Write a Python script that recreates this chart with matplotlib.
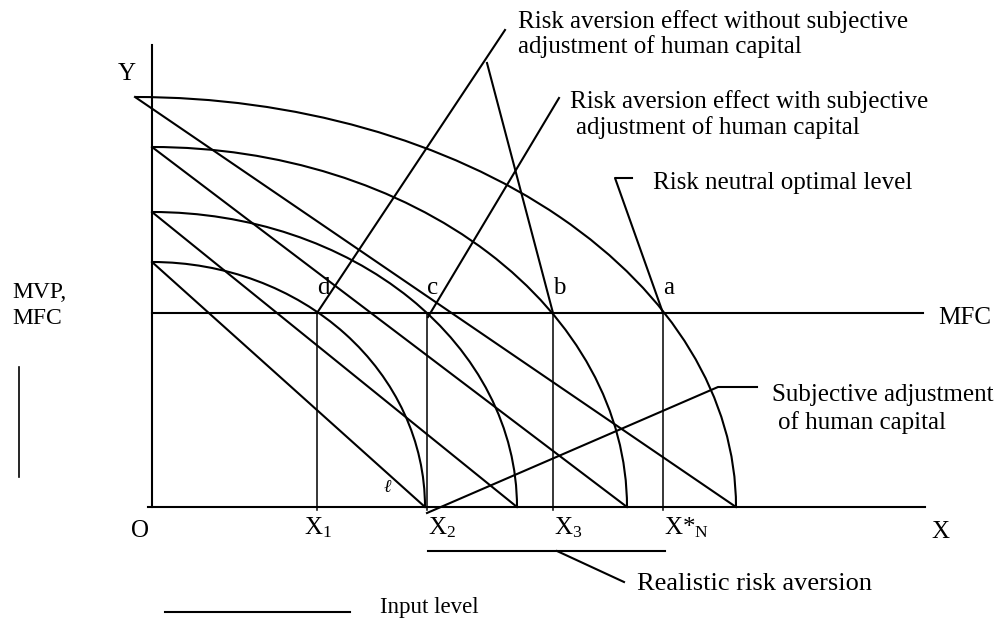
import matplotlib
matplotlib.use('Agg')
import matplotlib.pyplot as plt
from matplotlib.patches import Arc

# diagram units: origin O at the corner of the axes
curve_start = [-17, 0, 0, 0]          # where each MVP curve leaves the Y axis
curve_end = [584, 475, 365, 273]      # where each curve meets the X axis
curve_height = [410, 360, 295, 245]   # Y intercept of each curve
mfc_level = 194
x_levels = [165, 275, 401, 511]
x_names = ['X$_{\\rm 1}$', 'X$_{\\rm 2}$', 'X$_{\\rm 3}$', 'X*$_{\\rm N}$']
point_names = ['d', 'c', 'b', 'a']

plt.rcParams['font.family'] = ['Liberation Serif', 'DejaVu Serif']
plt.rcParams['mathtext.fontset'] = 'custom'
plt.rcParams['mathtext.rm'] = 'Liberation Serif'
plt.rcParams['mathtext.it'] = 'Liberation Serif:italic'

fig = plt.figure(figsize=(10.05, 6.2), dpi=100)
ax = fig.add_axes([0, 0, 1, 1])
ax.set_xlim(-152, 853)
ax.set_ylim(-113, 507)
ax.axis('off')

lw = 1.5
fs = 18

# axes
ax.plot([0, 0], [0, 462], color='black', lw=lw)
ax.plot([-4, 773], [0, 0], color='black', lw=lw)
ax.text(-25, 433, 'Y', fontsize=fs, ha='center', va='center')
ax.text(-12, -24, 'O', fontsize=fs, ha='center', va='center')
ax.text(788, -25, 'X', fontsize=fs, ha='center', va='center')

# concave MVP curves and their straight chords
for x0, x1, h in zip(curve_start, curve_end, curve_height):
    a = x1 - x0
    ax.add_patch(Arc((x0, 0), 2 * a, 2 * h, theta1=0, theta2=90,
                     color='black', lw=lw))
    ax.plot([x0, x1], [h, 0], color='black', lw=lw)

# MFC line
ax.plot([0, 771], [mfc_level, mfc_level], color='black', lw=lw)
ax.text(786, mfc_level - 5, 'MFC', fontsize=fs, ha='left', va='center')

# input levels
for x, name, p in zip(x_levels, x_names, point_names):
    ax.plot([x, x], [mfc_level, -3], color='black', lw=1.1)
    ax.text(x + 1, -21, name, fontsize=fs, ha='left' if x > 200 else 'center',
            va='center')
    ax.text(x + 6, mfc_level + 25, p, fontsize=fs, ha='center', va='center')

# pointer lines
ax.plot([165, 353], [194, 477], color='black', lw=lw)
ax.plot([335, 401], [444, 194], color='black', lw=lw)
ax.plot([276, 407], [190, 409], color='black', lw=lw)
ax.plot([511, 463, 480], [194, 329, 329], color='black', lw=lw)
ax.plot([275, 566, 605], [-6, 120, 120], color='black', lw=lw)
ax.plot([276, 513], [-44, -44], color='black', lw=lw)
ax.plot([405, 472], [-44, -75], color='black', lw=lw)
ax.plot([13, 198], [-105, -105], color='black', lw=lw)
ax.plot([-133, -133], [30, 140], color='black', lw=1.2)

ax.text(366, 485, 'Risk aversion effect without subjective', fontsize=fs,
        va='center')
ax.text(366, 460, 'adjustment of human capital', fontsize=fs, va='center')
ax.text(418, 405, 'Risk aversion effect with subjective', fontsize=fs,
        va='center')
ax.text(424, 379, 'adjustment of human capital', fontsize=fs, va='center')
ax.text(501, 324, 'Risk neutral optimal level', fontsize=fs, va='center')
ax.text(620, 112, 'Subjective adjustment', fontsize=fs, va='center')
ax.text(626, 84, 'of human capital', fontsize=fs, va='center')
ax.text(485, -77, 'Realistic risk aversion', fontsize=19, va='center')
ax.text(228, -101, 'Input level', fontsize=16.5, va='center')
ax.text(-140, 215, 'MVP,', fontsize=17, va='center')
ax.text(-140, 189, 'MFC', fontsize=17, va='center')
ax.text(235, 20, 'ℓ', fontsize=13, style='italic', ha='center', va='center')

fig.savefig('out.png', dpi=100)
